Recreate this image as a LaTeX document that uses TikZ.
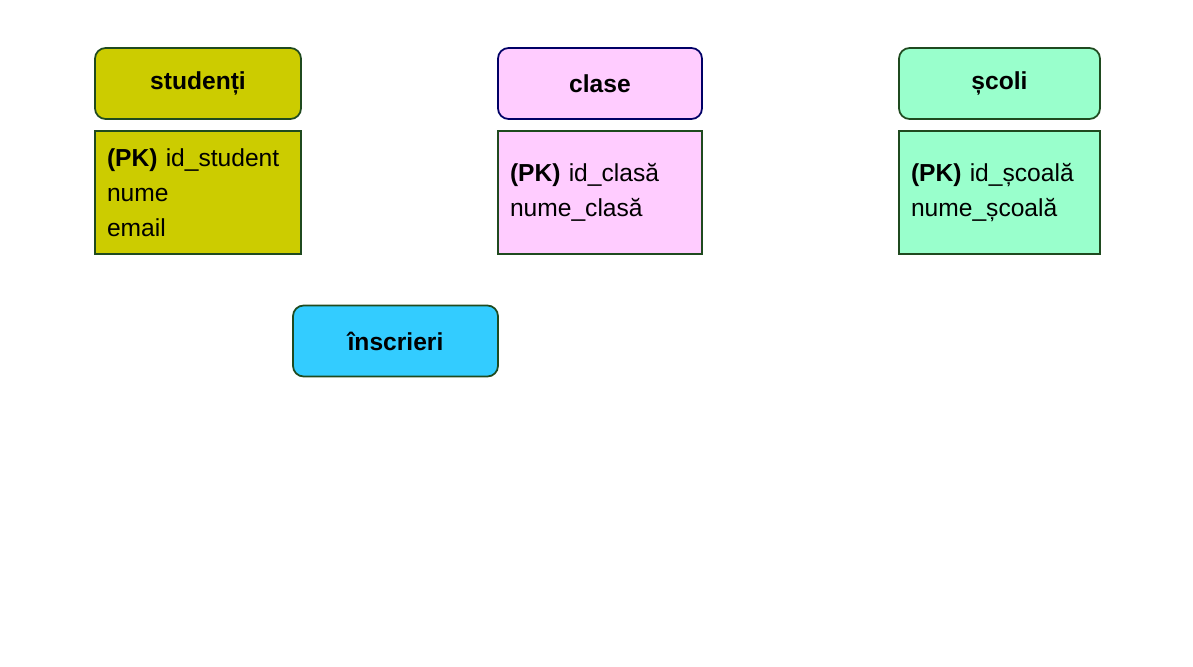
\documentclass[tikz,border=0pt]{standalone}
\usepackage{fontspec}
\setmainfont{Liberation Sans}
\definecolor{stud}{HTML}{CCCC00}
\definecolor{clas}{HTML}{FFCCFF}
\definecolor{scol}{HTML}{99FFCC}
\definecolor{insc}{HTML}{33CCFF}
\definecolor{edge}{HTML}{1F4A1F}
\begin{document}
\begin{tikzpicture}[x=0.02cm,y=-0.02cm,
    head/.style={draw=edge,line width=1pt,rounded corners=6pt,minimum height=1.42cm,
      font=\fontsize{14}{17}\selectfont\bfseries},
    body/.style={draw=edge,line width=1pt,minimum height=2.46cm,inner xsep=0.24cm,
      align=left,font=\fontsize{14}{20}\selectfont}]
    \useasboundingbox (0,0) rectangle (1193,666);
    % header boxes
    \node[head,fill=stud,minimum width=4.12cm] (studenti) at (198,83.5) {studenți};
    \node[head,fill=clas,draw=blue!40!black,minimum width=4.08cm] (clase) at (600,83.5) {clase};
    \node[head,fill=scol,minimum width=4.02cm] (scoli) at (999.5,83.5) {școli};
    \node[head,fill=insc,minimum width=4.10cm] (inscrieri) at (395.5,341) {înscrieri};
    % attribute boxes
    \node[body,fill=stud,text width=3.64cm] (studentiAttr) at (198,192.5)
      {\textbf{(PK)} id\_student\\nume\\email};
    \node[body,fill=clas,text width=3.60cm] (claseAttr) at (600,192.5)
      {\textbf{(PK)} id\_clasă\\nume\_clasă};
    \node[body,fill=scol,text width=3.54cm] (scoliAttr) at (999.5,192.5)
      {\textbf{(PK)} id\_școală\\nume\_școală};
\end{tikzpicture}
\end{document}
